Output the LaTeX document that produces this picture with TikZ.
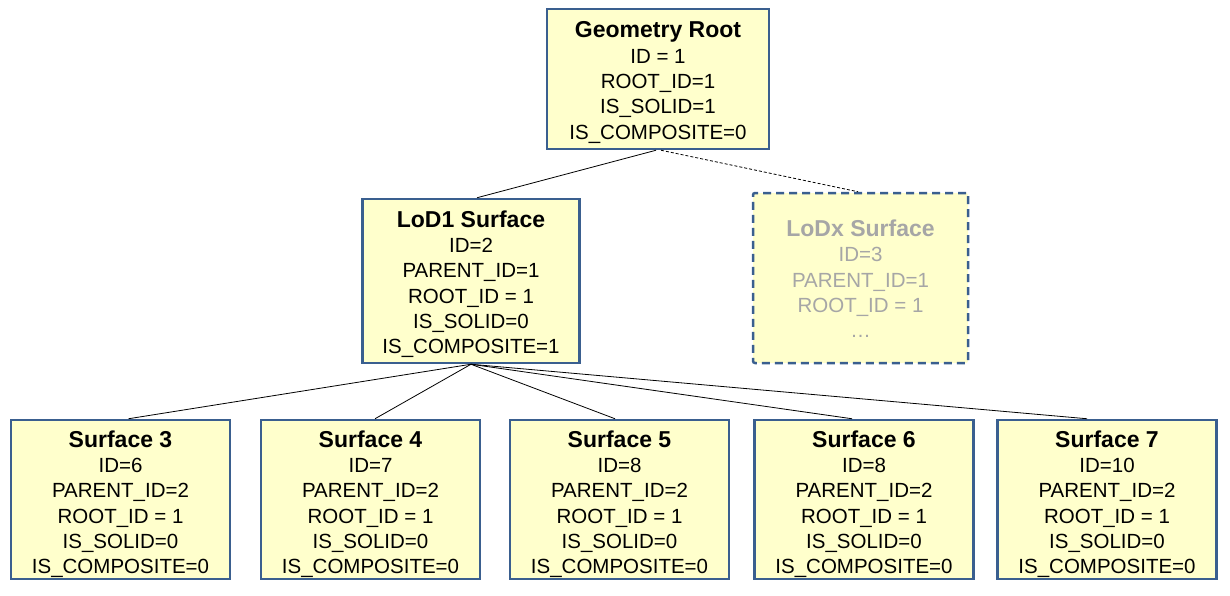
\documentclass[tikz,border=0pt]{standalone}
\usepackage{fontspec}
\setmainfont{Liberation Sans}
\usetikzlibrary{calc}
\definecolor{boxfill}{HTML}{FFFFCC}
\definecolor{boxline}{HTML}{3A5F8F}
\definecolor{ghost}{HTML}{A6A6A6}
\newcommand{\ttl}[2][26pt]{{\fontsize{23}{25.3}\selectfont\bfseries\rule{0pt}{#1}#2}}
\begin{document}
\begin{tikzpicture}[x=1pt,y=-1pt,
  entity/.style={draw=boxline, fill=boxfill, line width=2.5pt, align=center, inner sep=0pt,
    font=\fontsize{20.5}{25.3}\selectfont},
  topbox/.style={entity, minimum width=222pt, minimum height=140pt},
  midbox/.style={entity, minimum width=217pt, minimum height=164pt},
  ghostbox/.style={entity, draw=boxline, dash pattern=on 8pt off 5pt, rounded corners=2pt,
    text=ghost, minimum width=215pt, minimum height=170pt},
  leafbox/.style={entity, minimum width=219pt, minimum height=159pt},
  link/.style={draw=black, line width=0.8pt},
  dlink/.style={draw=black, line width=0.8pt, dash pattern=on 3pt off 2pt}]
\useasboundingbox (0,0) rectangle (1230,596);

\node[topbox] (root) at (658,79)
  {\ttl[23pt]{Geometry Root}\\ID = 1\\ROOT\_ID=1\\IS\_SOLID=1\\IS\_COMPOSITE=0};
\node[midbox] (lod1) at (471,281)
  {\ttl[23pt]{LoD1 Surface}\\ID=2\\PARENT\_ID=1\\ROOT\_ID = 1\\IS\_SOLID=0\\IS\_COMPOSITE=1};
\node[ghostbox] (lodx) at (860.5,278)
  {\ttl[18pt]{LoDx Surface}\\ID=3\\PARENT\_ID=1\\ROOT\_ID = 1\\…};

\node[leafbox] (s3) at (120.5,499.5)
  {\ttl{Surface 3}\\ID=6\\PARENT\_ID=2\\ROOT\_ID = 1\\IS\_SOLID=0\\IS\_COMPOSITE=0};
\node[leafbox] (s4) at (370.5,499.5)
  {\ttl{Surface 4}\\ID=7\\PARENT\_ID=2\\ROOT\_ID = 1\\IS\_SOLID=0\\IS\_COMPOSITE=0};
\node[leafbox] (s5) at (619.5,499.5)
  {\ttl{Surface 5}\\ID=8\\PARENT\_ID=2\\ROOT\_ID = 1\\IS\_SOLID=0\\IS\_COMPOSITE=0};
\node[leafbox] (s6) at (864,499.5)
  {\ttl{Surface 6}\\ID=8\\PARENT\_ID=2\\ROOT\_ID = 1\\IS\_SOLID=0\\IS\_COMPOSITE=0};
\node[leafbox] (s7) at (1107,499.5)
  {\ttl{Surface 7}\\ID=10\\PARENT\_ID=2\\ROOT\_ID = 1\\IS\_SOLID=0\\IS\_COMPOSITE=0};

\coordinate (rb) at ($(root.south)+(-2,0)$);
\coordinate (rbd) at ($(root.south)+(3,0)$);
\coordinate (lt) at ($(lod1.north)+(6,0)$);
\coordinate (xt) at ($(lodx.north)+(-2.5,0)$);
\coordinate (lb) at (lod1.south);
\coordinate (t3) at ($(s3.north)+(8,0)$);
\coordinate (t4) at ($(s4.north)+(4.5,0)$);
\coordinate (t5) at ($(s5.north)+(-4.5,0)$);
\coordinate (t6) at ($(s6.north)+(-12,0)$);
\coordinate (t7) at ($(s7.north)+(-20,0)$);

\draw[link] (rb) -- (lt);
\draw[dlink] (rbd) -- (xt);
\foreach \t in {t3,t4,t5,t6,t7} \draw[link] (lb) -- (\t);
\end{tikzpicture}
\end{document}
